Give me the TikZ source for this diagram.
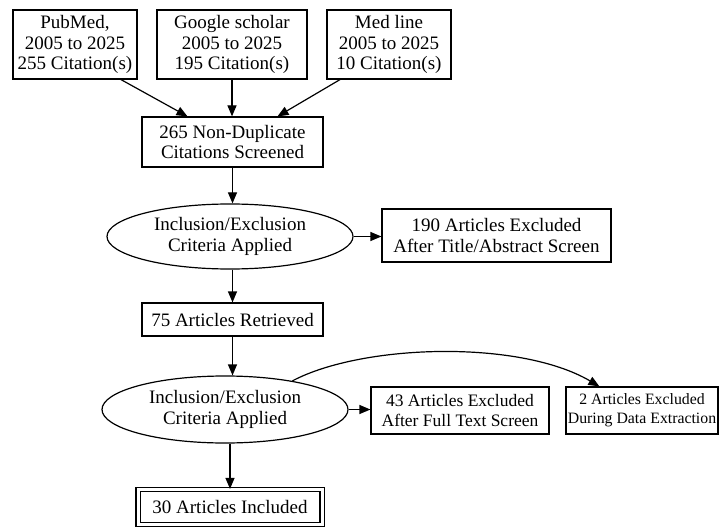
\documentclass[tikz,border=0pt]{standalone}
\usepackage{fontspec}
\setmainfont{Liberation Serif}
\usetikzlibrary{shapes.geometric,arrows.meta}

\tikzset{
  box/.style={draw, rectangle, line width=1.2pt, inner sep=0pt, align=center,
    font=\fontsize{19}{20.5}\selectfont},
  oval/.style={draw, ellipse, line width=1.2pt, inner sep=0pt, align=center,
    font=\fontsize{19}{20.5}\selectfont},
  arr/.style={-{Triangle[length=11pt,width=9pt]}, line width=1.2pt},
}

\begin{document}
\begin{tikzpicture}[x=1pt,y=1pt]
  \useasboundingbox (0,0) rectangle (719,-529);

  \node[box, minimum width=124pt, minimum height=69pt] (pubmed) at (75,-44.5) {PubMed,\\2005 to 2025\\255 Citation(s)};
  \node[box, minimum width=150pt, minimum height=69pt] (scholar) at (232,-44.5) {Google scholar\\2005 to 2025\\195 Citation(s)};
  \node[box, minimum width=124pt, minimum height=69pt] (medline) at (389,-44.5) {Med line\\2005 to 2025\\10 Citation(s)};

  \node[box, minimum width=181pt, minimum height=50pt] (screened) at (232.5,-142) {265 Non-Duplicate\\Citations Screened};
  \node[oval, minimum width=246pt, minimum height=65pt] (crit1) at (230,-236.5) {Inclusion/Exclusion\\Criteria Applied};
  \node[box, minimum width=229pt, minimum height=53pt] (excl1) at (496.5,-235.5) {190 Articles Excluded\\After Title/Abstract Screen};
  \node[box, minimum width=181pt, minimum height=33pt] (retrieved) at (232.5,-319.5) {75 Articles Retrieved};

  \node[oval, minimum width=246pt, minimum height=67pt] (crit2) at (225,-409.5) {Inclusion/Exclusion\\Criteria Applied};
  \node[box, minimum width=178pt, minimum height=47pt, font=\fontsize{17.5}{19.5}\selectfont] (excl2) at (460,-410.5) {43 Articles Excluded\\After Full Text Screen};
  \node[box, minimum width=152pt, minimum height=47pt, font=\fontsize{15.8}{19}\selectfont] (excl3) at (642,-410.5) {2 Articles Excluded\\During Data Extraction};
  \node[box, double, double distance=3pt, minimum width=184pt, minimum height=35pt] (included) at (230,-507) {30 Articles Included};

  \draw[arr] ([xshift=46pt]pubmed.south) -- ([xshift=-45pt]screened.north);
  \draw[arr] (scholar.south) -- (scholar.south |- screened.north);
  \draw[arr] ([xshift=-49pt]medline.south) -- ([xshift=45pt]screened.north);

  \draw[arr] (screened.south) -- (screened.south |- crit1.north);
  \draw[arr] (crit1.east) -- (excl1.west |- crit1.east);
  \draw[arr] (retrieved.north |- crit1.south) -- (retrieved.north);
  \draw[arr] (retrieved.south) -- (retrieved.south |- crit2.north);

  \draw[arr] (crit2.east) -- (excl2.west |- crit2.east);
  \draw[arr] (crit2.23) .. controls +(70,37) and +(-80,47) .. ([xshift=34pt]excl3.north west);
  \draw[arr] (included.north |- crit2.south) -- (included.north);
\end{tikzpicture}
\end{document}
